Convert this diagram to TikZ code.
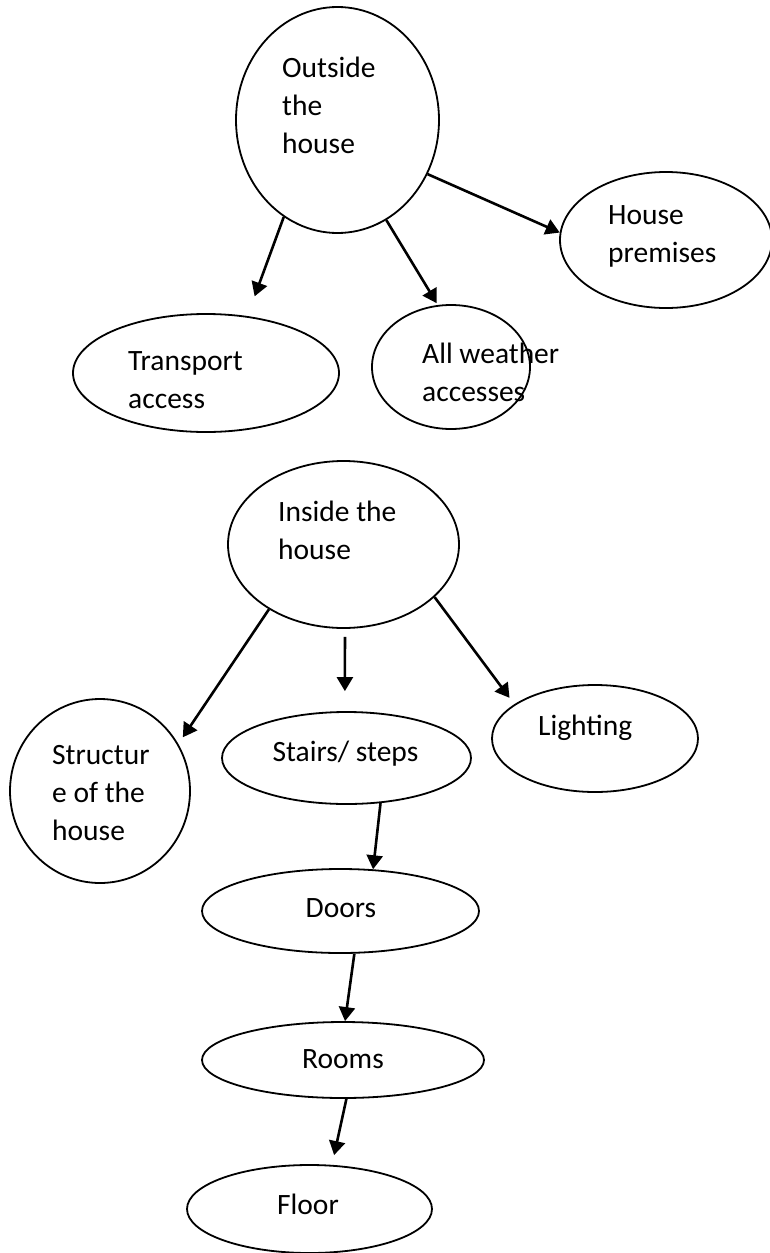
\documentclass[tikz,border=0pt]{standalone}
\usepackage{fontspec}
\setmainfont{Carlito}
\usetikzlibrary{shapes.geometric,arrows.meta}

\begin{document}
\begin{tikzpicture}[x=1pt,y=-1pt,
  bub/.style={ellipse,draw=black,line width=1.8pt,inner sep=0pt},
  lbl/.style={inner sep=0pt,align=left,anchor=base west,font=\fontsize{29.5}{38}\selectfont},
  mid/.style={inner sep=0pt,anchor=base,font=\fontsize{29.5}{38}\selectfont},
  arr/.style={-{Triangle[length=14pt,width=16pt]},line width=2.6pt}]
  \path[use as bounding box] (0,0) rectangle (769,1253);
  % outside the house
  \node[bub,minimum width=203pt,minimum height=226pt] (out) at (337.5,120) {};
  \node[bub,minimum width=212pt,minimum height=136pt] (prem) at (666,240) {};
  \node[bub,minimum width=266pt,minimum height=118pt] (trans) at (206,373) {};
  \node[bub,minimum width=158pt,minimum height=124pt] (allw) at (451,367) {};
  \node[lbl] (outT) at (282,153) {Outside\\the\\house};
  \node[lbl] (premT) at (608,262) {House\\premises};
  \node[lbl] (transT) at (128,408) {Transport\\access};
  \node[lbl] (allwT) at (422,401) {All weather\\accesses};
  % inside the house
  \node[bub,minimum width=231pt,minimum height=167pt] (ins) at (343.5,544.5) {};
  \node[bub,minimum width=180pt,minimum height=184pt] (struc) at (100,791) {};
  \node[bub,minimum width=249pt,minimum height=92pt] (stairs) at (346.5,758) {};
  \node[bub,minimum width=206pt,minimum height=107pt] (light) at (595,738.5) {};
  \node[bub,minimum width=277pt,minimum height=84pt] (doors) at (340.5,911) {};
  \node[bub,minimum width=282pt,minimum height=76pt] (rooms) at (343,1060) {};
  \node[bub,minimum width=245pt,minimum height=88pt] (floor) at (309.5,1209) {};
  \node[lbl] (insT) at (278,559) {Inside the\\house};
  \node[lbl] (strucT) at (52,840) {Structur\\e of the\\house};
  \node[mid] (stairsT) at (345.5,761) {Stairs/ steps};
  \node[lbl] (lightT) at (538,735) {Lighting};
  \node[mid] (doorsT) at (341,917) {Doors};
  \node[mid] (roomsT) at (343,1068) {Rooms};
  \node[mid] (floorT) at (308,1214) {Floor};
  % arrows
  \draw[arr,shorten >=21pt] (out.-119) -- (trans.54);
  \draw[arr,shorten >=2pt] (out.-64) -- (allw.102);
  \draw[arr] (out.-31) -- (prem.176);
  \draw[arr,shorten >=8pt] (ins.-139) -- (struc.31);
  \draw[arr,shorten <=8pt,shorten >=20pt] (ins.-89) -- (stairs.92);
  \draw[arr,shorten >=8pt] (ins.-30) -- (light.157);
  \draw[arr] (stairs.-53) -- (doors.52);
  \draw[arr] (doors.-72) -- (rooms.87);
  \draw[arr,shorten >=10pt] (rooms.-85) -- (floor.63);
\end{tikzpicture}
\end{document}
